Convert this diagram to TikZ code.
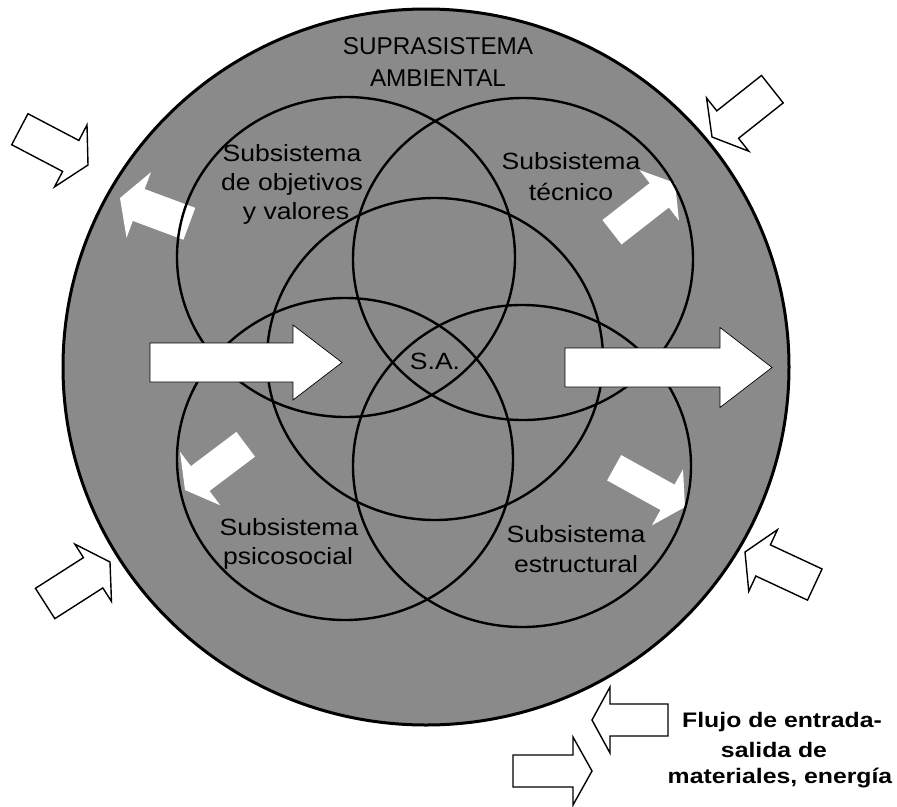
\documentclass[tikz,border=0pt]{standalone}
\usepackage{fontspec}
\setmainfont{Liberation Sans}
\newfontfamily\labelfont[FakeStretch=1.13]{Liberation Sans}
\newfontfamily\legendfont[FakeStretch=1.18]{Liberation Sans}
\definecolor{halftone}{gray}{0.54}

% block arrow: #1 style, #2 tip, #3 direction (deg), #4 total length,
% #5 shaft half width, #6 head length, #7 head half width
\newcommand{\blockarrow}[7]{%
  \begin{scope}[shift={#2}, rotate=#3]
    \path[#1] (-#4,#5) -- (-#6,#5) -- (-#6,#7) -- (0,0)
      -- (-#6,-#7) -- (-#6,-#5) -- (-#4,-#5) -- cycle;
  \end{scope}}

\tikzset{
  ring/.style={draw=black, line width=3pt, fill=halftone},
  subsys/.style={draw=black, line width=2.4pt},
  outerflow/.style={draw=black, line width=1.4pt, fill=white, line join=miter},
  innerflow/.style={fill=white},
  mainflow/.style={fill=white, draw=black, line width=0.7pt},
  headtext/.style={font=\fontsize{24.3}{29}\selectfont, anchor=base, inner sep=0pt},
  subtext/.style={font=\labelfont\fontsize{23.5}{28}\selectfont, anchor=base, inner sep=0pt},
  legtext/.style={font=\legendfont\bfseries\fontsize{21}{26}\selectfont, anchor=base, inner sep=0pt},
}

\begin{document}
\begin{tikzpicture}[x=1pt, y=-1pt]
\useasboundingbox (0,0) rectangle (897,806);

% centres of the environment and of the five subsystems
\coordinate (env) at (426,367);
\coordinate (cObj) at (346,257);
\coordinate (cTec) at (523,259);
\coordinate (cPsi) at (345,459);
\coordinate (cEst) at (522,466);
\coordinate (cAdm) at (435,359);

% environmental suprasystem
\path[ring] (env) ellipse [x radius=363, y radius=358];

% flows inside the suprasystem (drawn under the subsystem outlines)
\blockarrow{innerflow}{(120,198)}{159.6}{74}{17}{20}{35}
\blockarrow{innerflow}{(675,183)}{38}{80}{15.5}{20}{32}
\blockarrow{innerflow}{(185,490)}{-143}{76}{15.5}{19}{33.5}
\blockarrow{innerflow}{(685,507)}{-29}{81}{14.5}{20}{32}

% subsystems
\draw[subsys] (cObj) ellipse [x radius=169, y radius=160];
\draw[subsys] (cTec) ellipse [x radius=170, y radius=161];
\draw[subsys] (cPsi) ellipse [x radius=168, y radius=161];
\draw[subsys] (cEst) ellipse [x radius=169, y radius=161];
\draw[subsys] (cAdm) ellipse [x radius=168, y radius=161];

% main input and output
\blockarrow{mainflow}{(342,362.5)}{0}{192}{19.5}{49}{37.5}
\blockarrow{mainflow}{(772,367.5)}{0}{207}{19.5}{52}{40}

% exchanges with the outside
\blockarrow{outerflow}{(88,165)}{-27.7}{77}{17.5}{19.5}{35}
\blockarrow{outerflow}{(712,137)}{-141.6}{77}{17.5}{20}{34}
\blockarrow{outerflow}{(110,562)}{32.6}{77}{18}{20}{34}
\blockarrow{outerflow}{(745,552)}{155}{77}{17.2}{20}{34}

% legend arrows
\blockarrow{outerflow}{(592,720)}{180}{76}{16}{18}{33}
\blockarrow{outerflow}{(592,771)}{0}{79}{16}{19}{34}

% labels
\node[headtext] (sup1) at (438,54) {SUPRASISTEMA};
\node[headtext] (sup2) at (438,86) {AMBIENTAL};

\node[subtext] (obj1) at (292,161) {Subsistema};
\node[subtext] (obj2) at (292,190) {de objetivos};
\node[subtext] (obj3) at (296,219) {y valores};

\node[subtext] (tec1) at (571,169) {Subsistema};
\node[subtext] (tec2) at (571,200) {técnico};

\node[subtext] (psi1) at (289,535) {Subsistema};
\node[subtext] (psi2) at (288,564) {psicosocial};

\node[subtext] (est1) at (576,542) {Subsistema};
\node[subtext] (est2) at (576,572) {estructural};

\node[subtext] (adm) at (435,369) {S.A.};

\node[legtext] (leg1) at (782,727) {Flujo de entrada-};
\node[legtext] (leg2) at (774,757) {salida de};
\node[legtext] (leg3) at (780,783) {materiales, energía};
\end{tikzpicture}
\end{document}
